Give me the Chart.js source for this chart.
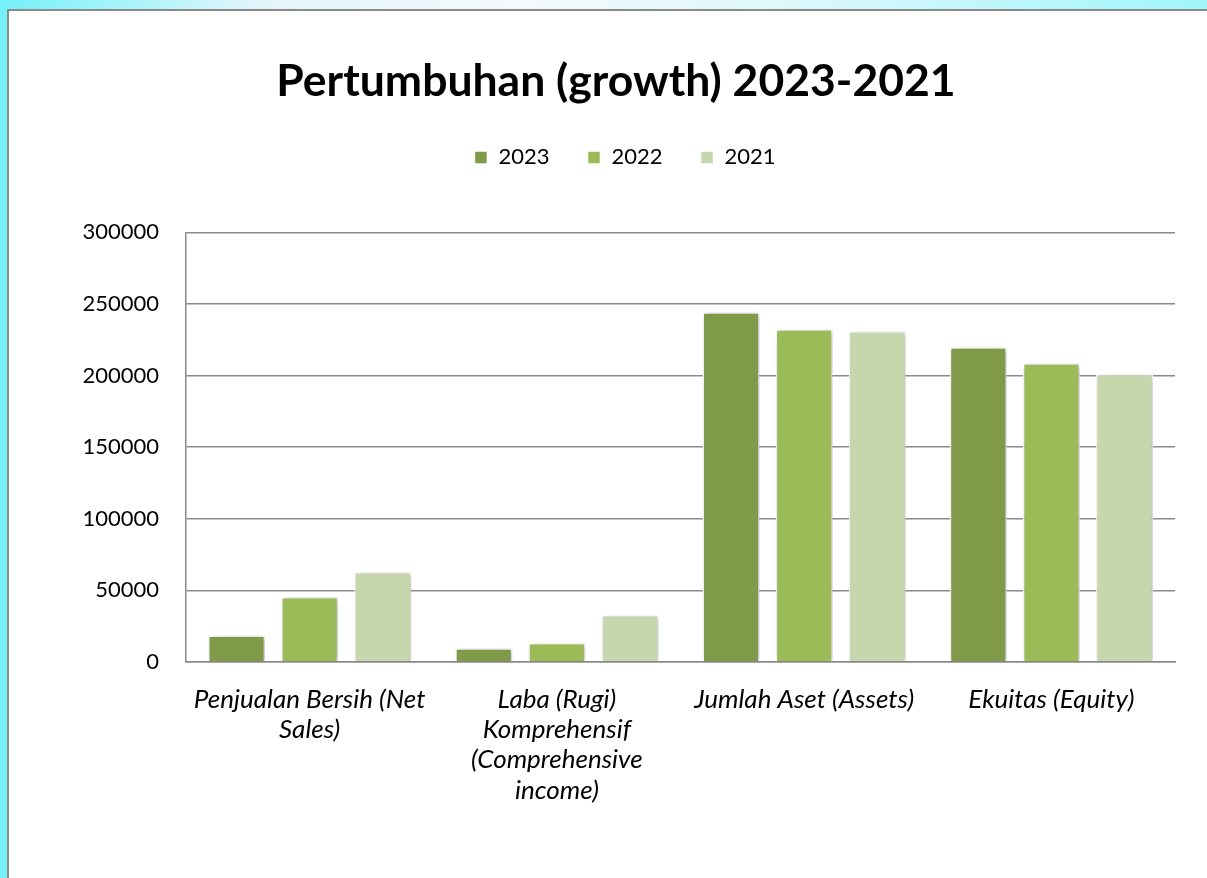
<!DOCTYPE html>
<html>
<head>
<meta charset="utf-8">
<title>Pertumbuhan (growth) 2023-2021</title>
<script src="https://cdn.jsdelivr.net/npm/chart.js@4.4.1/dist/chart.umd.min.js"></script>
<style>
    html, body { margin: 0; padding: 0; width: 1207px; height: 878px; overflow: hidden; }
    body {
        background: linear-gradient(to right, #74f1fa 0px, #e2f5fa 260px, #f4f9fc 520px, #dcf8fb 800px, #9ff6fb 1207px);
    }
    #frame {
        position: absolute; left: 7px; top: 9px; width: 1230px; height: 890px;
        border: 2px solid #8a8a8a; background: #ffffff;
    }
    #MYChartA { position: absolute; left: 0; top: 0; }
</style>
</head>
<body>
<div id="frame">
    <canvas id="MYChartA" width="1214" height="870"></canvas>
</div>
<script>
var categories = [
    ['Penjualan Bersih (Net', 'Sales)'],
    ['Laba (Rugi)', 'Komprehensif', '(Comprehensive', 'income)'],
    'Jumlah Aset (Assets)',
    'Ekuitas (Equity)'
];
var years = ['2023', '2022', '2021'];
var values2023 = [18500, 9600, 244200, 219800];
var values2022 = [45400, 13300, 232300, 208600];
var values2021 = [62800, 32800, 230900, 200900];
var yTicks = [0, 50000, 100000, 150000, 200000, 250000, 300000];

document.addEventListener('DOMContentLoaded', function () {
    var MYChartA;
    var gridColor = '#8a8a8a';

    // soft shadow behind the bars, like the Excel style
    var barShadow = {
        id: 'barShadow',
        beforeDatasetsDraw: function (chart) {
            var ctx = chart.ctx;
            ctx.save();
            ctx.shadowColor = 'rgba(0, 0, 0, 0.28)';
            ctx.shadowBlur = 6;
            ctx.shadowOffsetX = 2;
            ctx.shadowOffsetY = 1;
        },
        afterDatasetsDraw: function (chart) {
            chart.ctx.restore();
        }
    };

    // extra room between legend and plot, and nudge legend a bit to the right
    var legendGap = {
        id: 'legendGap',
        beforeLayout: function (chart) {
            var legend = chart.legend;
            if (legend && !legend._gapPatched) {
                var fit = legend.fit;
                legend.fit = function () {
                    fit.call(this);
                    this.height += 54;
                };
                legend._gapPatched = true;
            }
        },
        afterLayout: function (chart) {
            if (chart.legend) {
                chart.legend.left += 18;
            }
        }
    };

    if (MYChartA) {
        MYChartA.destroy();
    }

    var ctx = document.getElementById('MYChartA').getContext('2d');
    MYChartA = new Chart(ctx, {
        type: 'bar',
        data: {
            labels: categories,
            datasets: [{
                label: years[0],
                data: values2023,
                backgroundColor: '#7f9a48'
            }, {
                label: years[1],
                data: values2022,
                backgroundColor: '#9bbb59'
            }, {
                label: years[2],
                data: values2021,
                backgroundColor: '#c6d6ad'
            }]
        },
        plugins: [barShadow, legendGap],
        options: {
            responsive: false,
            animation: false,
            devicePixelRatio: 1,
            layout: { padding: { left: 48, right: 48, top: 0, bottom: 0 } },
            datasets: {
                bar: {
                    categoryPercentage: 0.887,
                    barPercentage: 0.78,
                    borderColor: '#ffffff',
                    borderWidth: 1.5
                }
            },
            plugins: {
                title: {
                    display: true,
                    text: 'Pertumbuhan (growth) 2023-2021',
                    color: '#000000',
                    font: { family: 'Lato', size: 44.5, weight: 'bold' },
                    padding: { top: 44, bottom: 0 }
                },
                legend: {
                    display: true,
                    labels: {
                        color: '#000000',
                        font: { family: 'Lato', size: 22 },
                        boxWidth: 13,
                        boxHeight: 13,
                        padding: 38
                    }
                },
                tooltip: { enabled: false }
            },
            scales: {
                x: {
                    grid: { display: false, drawTicks: false },
                    border: { display: true, color: gridColor, width: 1.5 },
                    ticks: {
                        color: '#000000',
                        font: { family: 'Lato', size: 26, style: 'italic', lineHeight: 1.17 },
                        padding: 22,
                        maxRotation: 0,
                        autoSkip: false
                    },
                    afterFit: function (scale) {
                        scale.height = 219;
                    }
                },
                y: {
                    min: 0,
                    max: 300000,
                    grid: { color: gridColor, lineWidth: 1.5, drawTicks: false },
                    border: { display: true, color: gridColor, width: 1.5 },
                    ticks: {
                        stepSize: 50000,
                        color: '#000000',
                        font: { family: 'Lato', size: 22 },
                        padding: 27,
                        callback: function (value) {
                            return yTicks.indexOf(value) >= 0 ? String(value) : '';
                        }
                    },
                    afterFit: function (scale) {
                        scale.width = 129;
                    }
                }
            }
        }
    });
});
</script>
</body>
</html>
